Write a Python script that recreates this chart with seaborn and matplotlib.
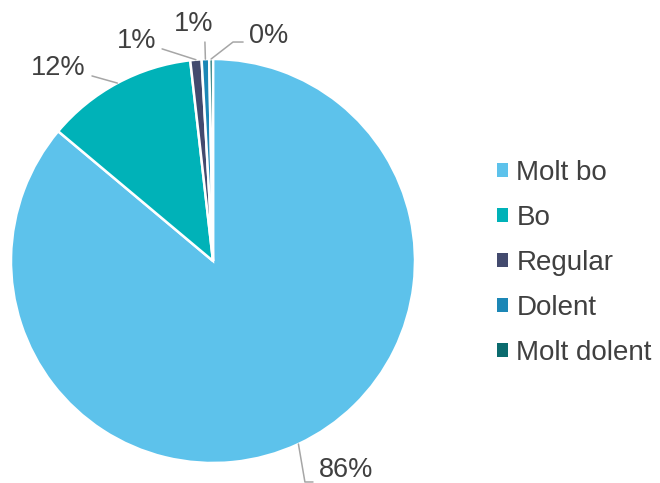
import numpy as np
import seaborn as sns
import matplotlib.pyplot as plt
from matplotlib.patches import Patch

# Dades (percentatges llegits del gràfic)
categories = ['Molt bo', 'Bo', 'Regular', 'Dolent', 'Molt dolent']
valors = [86.1, 12.1, 0.9, 0.6, 0.3]
etiquetes = ['86%', '12%', '1%', '1%', '0%']
colors = ['#5DC2EB', '#00B2B8', '#434A6E', '#1C87B6', '#0B6B6E']

# Posicions de les etiquetes (coordenades de l'eix, radi = 1)
pos_text = [(0.53, -1.035), (-0.757, 0.955), (-0.366, 1.089), (-0.094, 1.175), (0.272, 1.114)]
colzes = [[(0.455, -1.094), (0.495, -1.094)],
          [(-0.599, 0.916)],
          [(-0.252, 1.050)],
          [(-0.040, 1.084)],
          [(0.099, 1.084), (0.149, 1.084)]]
alineacio = ['left', 'right', 'right', 'center', 'left']

sns.set_theme(style='white')
plt.rcParams['font.family'] = ['Liberation Sans', 'DejaVu Sans']

fig = plt.figure(figsize=(6.6, 4.83), dpi=100)
ax = fig.add_axes([11 / 660, 20 / 483, 404 / 660, 404 / 483])

paleta = sns.color_palette(colors)
wedges, _ = ax.pie(valors, colors=paleta, startangle=90, counterclock=False,
                   radius=1, wedgeprops=dict(edgecolor='white', linewidth=1.8))
ax.set_xlim(-1, 1)
ax.set_ylim(-1, 1)
ax.set_aspect('equal')
ax.axis('off')

# Línies guia i etiquetes
for w, txt, (tx, ty), colz, ha in zip(wedges, etiquetes, pos_text, colzes, alineacio):
    ang = np.deg2rad((w.theta1 + w.theta2) / 2)
    xs = [np.cos(ang)] + [p[0] for p in colz]
    ys = [np.sin(ang)] + [p[1] for p in colz]
    ax.plot(xs, ys, color='#A6A6A6', lw=1.1, clip_on=False)
    if ha == 'left':
        tx = colz[-1][0] + 0.03
    elif ha == 'right':
        tx = colz[-1][0] - 0.03
    ax.text(tx, ty, txt, ha=ha, va='center', fontsize=19.5, color='#404040', clip_on=False)

handles = [Patch(facecolor=c, edgecolor='none') for c in colors]
fig.legend(handles, categories, loc='center left', bbox_to_anchor=(497 / 660, 1 - 263 / 483),
           frameon=False, fontsize=20, handlelength=0.4, handleheight=0.4,
           handletextpad=0.3, labelspacing=0.69, borderpad=0, borderaxespad=0,
           labelcolor='#404040')

plt.savefig('out.png', dpi=100)
plt.close()
